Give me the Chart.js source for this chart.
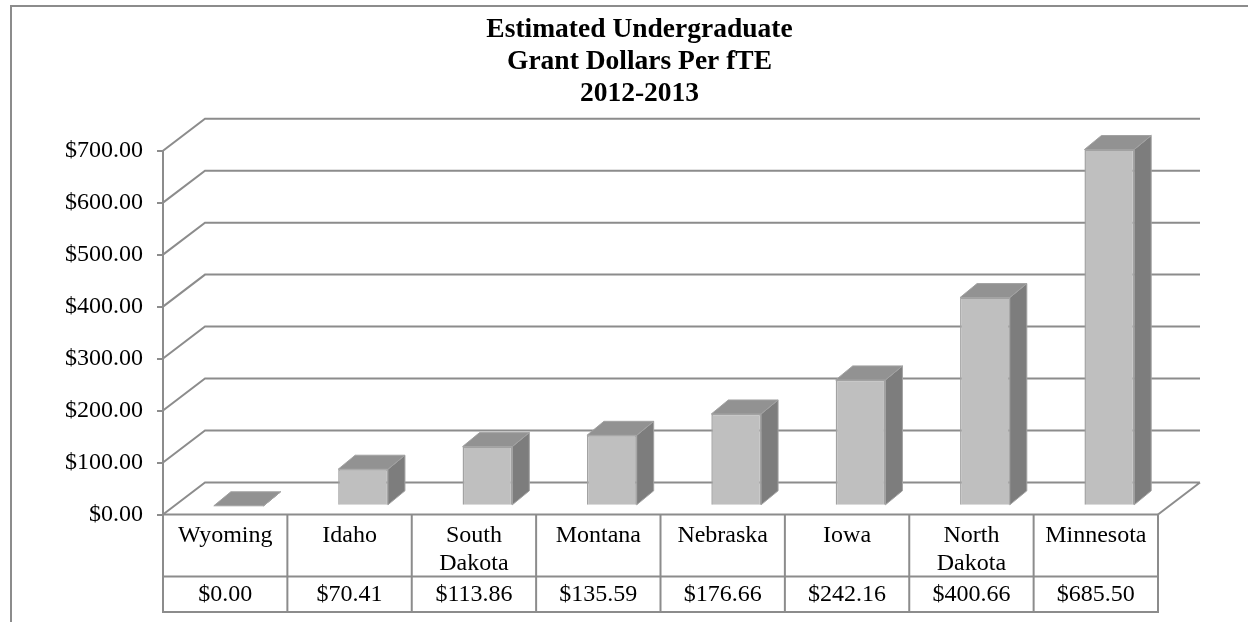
<!DOCTYPE html>
<html>
<head>
<meta charset="utf-8">
<title>Estimated Undergraduate Grant Dollars Per fTE 2012-2013</title>
<script src="https://cdn.jsdelivr.net/npm/chart.js@4/dist/chart.umd.min.js"></script>
<style>
  html, body { margin: 0; padding: 0; background: #fff; }
  #chart { display: block; }
</style>
</head>
<body>
<canvas id="chart" width="1248" height="622"></canvas>
<script>
// ---- data ----
const states = ['Wyoming', 'Idaho', ['South', 'Dakota'], 'Montana', 'Nebraska', 'Iowa', ['North', 'Dakota'], 'Minnesota'];
const grantPerFTE = [0.00, 70.41, 113.86, 135.59, 176.66, 242.16, 400.66, 685.50];
const yTickValues = [0, 100, 200, 300, 400, 500, 600, 700];
const titleLines = ['Estimated Undergraduate', 'Grant Dollars Per fTE', '2012-2013'];

// ---- styling ----
const SERIF = "'Liberation Serif', 'Times New Roman', serif";
const LINE = '#8c8c8c';
const FRONT = '#bfbfbf';
const FRONT_EDGE = '#a2a2a2';
const SIDE = '#7d7d7d';
const TOP = '#929292';
const WALL = { dx: 42, dy: -32 };     // depth of the back wall
const FACE = { dx: 13.5, dy: -8.7 };  // where the column fronts sit inside the floor
const BOX = { dx: 17, dy: -14 };      // thickness of each column

const money = v => '$' + Number(v).toFixed(2);

const columns3d = {
  id: 'columns3d',
  beforeDraw(chart) {
    const ctx = chart.ctx;
    ctx.save();
    ctx.fillStyle = '#fff';
    ctx.fillRect(0, 0, chart.width, chart.height);
    ctx.strokeStyle = LINE;
    ctx.lineWidth = 2;
    ctx.strokeRect(11, 6, chart.width + 20, chart.height + 20);
    ctx.restore();
  },
  beforeDatasetsDraw(chart) {
    const { ctx, chartArea: a, scales: { y } } = chart;
    ctx.save();
    ctx.strokeStyle = LINE;
    ctx.lineWidth = 2;
    ctx.beginPath();
    y.ticks.forEach(t => {
      const py = y.getPixelForValue(t.value);
      ctx.moveTo(a.left, py);
      ctx.lineTo(a.left + WALL.dx, py + WALL.dy);
      ctx.lineTo(a.right + WALL.dx, py + WALL.dy);
    });
    const py0 = y.getPixelForValue(0);
    ctx.moveTo(a.right, py0);
    ctx.lineTo(a.right + WALL.dx, py0 + WALL.dy);
    ctx.stroke();
    ctx.restore();
  },
  beforeDatasetDraw(chart, args) {
    const ctx = chart.ctx;
    ctx.save();
    ctx.translate(FACE.dx, FACE.dy);
    ctx.lineWidth = 1;
    ctx.strokeStyle = FRONT_EDGE;
    args.meta.data.forEach(bar => {
      const { x, y, base, width } = bar.getProps(['x', 'y', 'base', 'width'], true);
      const l = x - width / 2, r = x + width / 2;
      // right side
      ctx.fillStyle = SIDE;
      ctx.beginPath();
      ctx.moveTo(r, y);
      ctx.lineTo(r + BOX.dx, y + BOX.dy);
      ctx.lineTo(r + BOX.dx, base + BOX.dy);
      ctx.lineTo(r, base);
      ctx.closePath();
      ctx.fill();
      ctx.stroke();
      // top
      ctx.fillStyle = TOP;
      ctx.beginPath();
      ctx.moveTo(l, y);
      ctx.lineTo(l + BOX.dx, y + BOX.dy);
      ctx.lineTo(r + BOX.dx, y + BOX.dy);
      ctx.lineTo(r, y);
      ctx.closePath();
      ctx.fill();
      ctx.stroke();
    });
  },
  afterDatasetDraw(chart) {
    chart.ctx.restore();
  },
  afterDraw(chart) {
    const { ctx, chartArea: a, scales: { x } } = chart;
    const n = grantPerFTE.length;
    const colW = (a.right - a.left) / n;
    const top = a.bottom, mid = a.bottom + 62, bot = a.bottom + 97.5;
    ctx.save();
    ctx.strokeStyle = LINE;
    ctx.lineWidth = 2;
    ctx.beginPath();
    ctx.moveTo(a.left, top); ctx.lineTo(a.right, top);
    ctx.moveTo(a.left, mid); ctx.lineTo(a.right, mid);
    ctx.moveTo(a.left - 1, bot); ctx.lineTo(a.right + 1, bot);
    for (let i = 0; i <= n; i++) {
      const px = a.left + i * colW;
      ctx.moveTo(px, top); ctx.lineTo(px, bot);
    }
    ctx.stroke();
    ctx.fillStyle = '#000';
    ctx.font = '24px ' + SERIF;
    ctx.textAlign = 'center';
    ctx.textBaseline = 'middle';
    grantPerFTE.forEach((v, i) => {
      ctx.fillText(money(v), x.getPixelForValue(i), a.bottom + 80);
    });
    ctx.restore();
  }
};

new Chart(document.getElementById('chart'), {
  type: 'bar',
  data: {
    labels: states,
    datasets: [{
      data: grantPerFTE,
      yAxisID: 'y',
      backgroundColor: FRONT,
      borderColor: FRONT_EDGE,
      borderWidth: 1.5,
      barPercentage: 0.4,
      categoryPercentage: 1,
      clip: false
    }]
  },
  options: {
    responsive: false,
    animation: false,
    devicePixelRatio: 1,
    layout: { padding: { left: 31, right: 0, top: 0, bottom: 0 } },
    plugins: {
      legend: { display: false },
      tooltip: { enabled: false },
      title: {
        display: true,
        text: titleLines,
        color: '#000',
        font: { family: SERIF, size: 27.5, weight: 'bold', lineHeight: 1.15 },
        padding: { top: 14.4, bottom: 41.4 }
      }
    },
    scales: {
      x: {
        offset: true,
        grid: { display: false, drawTicks: false },
        border: { display: false },
        ticks: {
          color: '#000',
          font: { family: SERIF, size: 24, lineHeight: 1.15 },
          padding: 7.7,
          autoSkip: false,
          maxRotation: 0,
          minRotation: 0
        },
        afterFit(scale) { scale.height = 107.5; }
      },
      y: {
        position: 'left',
        min: 0,
        max: 700,
        afterBuildTicks(scale) { scale.ticks = yTickValues.map(v => ({ value: v })); },
        ticks: {
          color: '#000',
          font: { family: SERIF, size: 24 },
          padding: 14,
          callback: v => money(v)
        },
        grid: { drawOnChartArea: false, drawTicks: true, tickLength: 6, color: LINE, lineWidth: 2 },
        border: { display: true, color: LINE, width: 2 },
        afterFit(scale) { scale.width = 132; }
      },
      // empty strip on the right that leaves room for the back wall
      depth: {
        position: 'right',
        display: true,
        ticks: { display: false },
        grid: { display: false, drawTicks: false },
        border: { display: false },
        afterFit(scale) { scale.width = 90; }
      }
    }
  },
  plugins: [columns3d]
});
</script>
</body>
</html>
